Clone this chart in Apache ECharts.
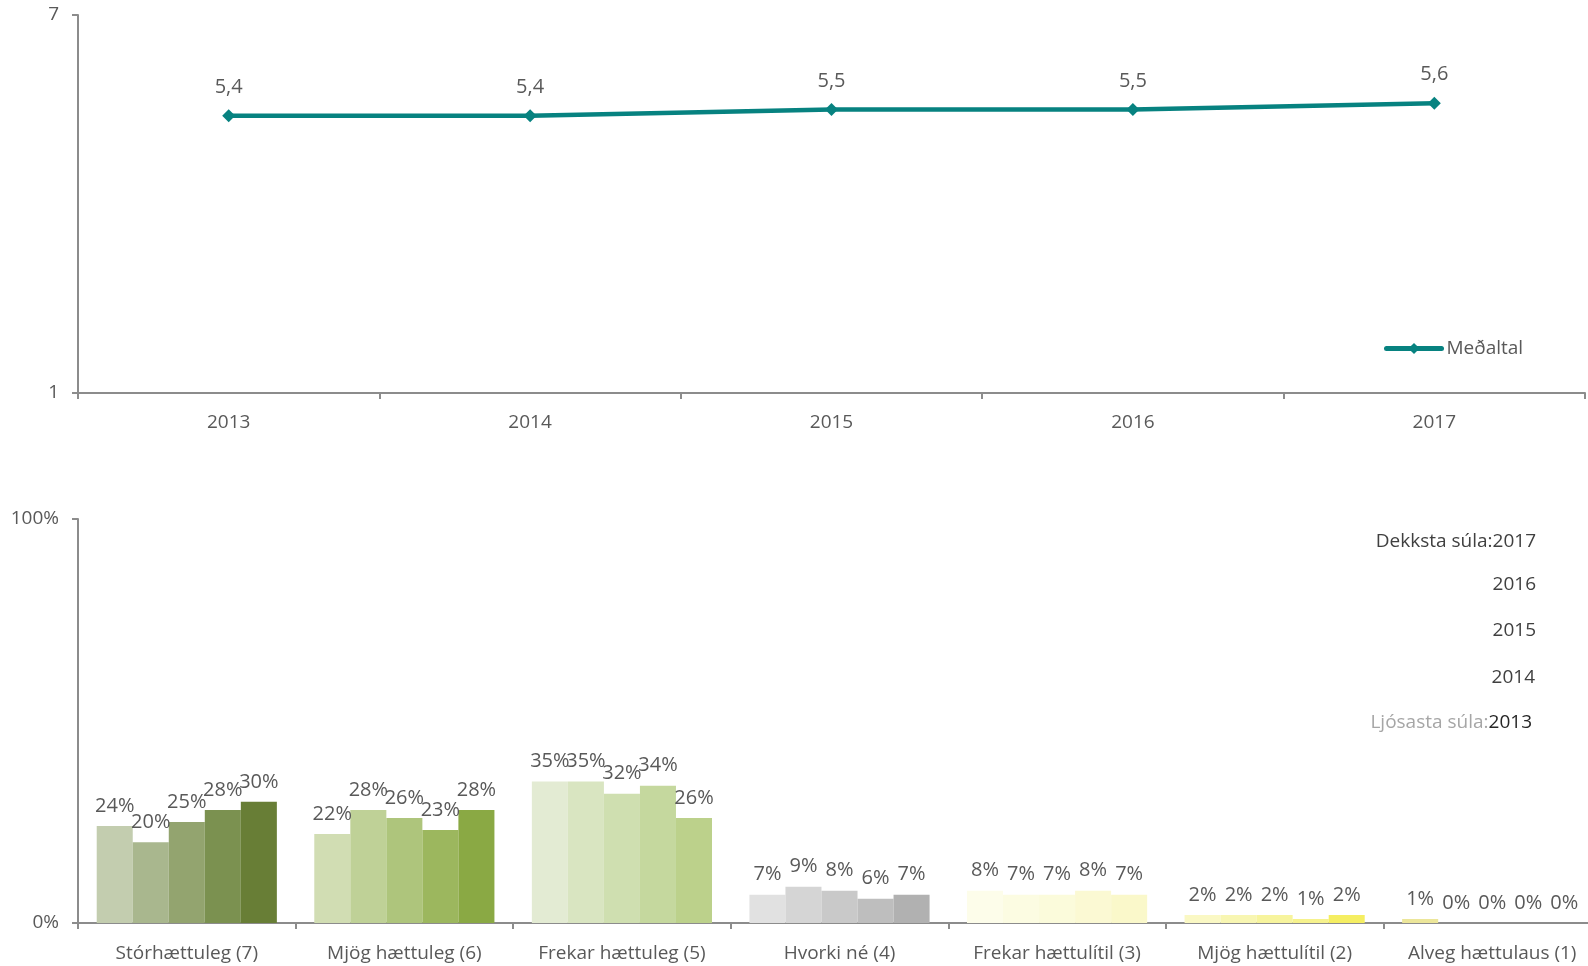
<!DOCTYPE html>
<html>
<head>
<meta charset="utf-8">
<script src="https://cdn.jsdelivr.net/npm/echarts@6/dist/echarts.min.js"></script>
<style>
  html, body { margin: 0; padding: 0; background: #ffffff; }
  #chart { width: 1588px; height: 966px; }
</style>
</head>
<body>
<div id="chart"></div>
<script>
// Mean score per year (scale 1–7)
const years = ['2013', '2014', '2015', '2016', '2017'];
const meanScore = [5.4, 5.4, 5.5, 5.5, 5.6];

// Answer distribution per category, one array per year (percent)
const categories = ['Stórhættuleg (7)', 'Mjög hættuleg (6)', 'Frekar hættuleg (5)', 'Hvorki né (4)',
  'Frekar hættulítil (3)', 'Mjög hættulítil (2)', 'Alveg hættulaus (1)'];
const share2013 = [24, 22, 35, 7, 8, 2, 1];
const share2014 = [20, 28, 35, 9, 7, 2, 0];
const share2015 = [25, 26, 32, 8, 7, 2, 0];
const share2016 = [28, 23, 34, 6, 8, 1, 0];
const share2017 = [30, 28, 26, 7, 7, 2, 0];
const shares = [share2013, share2014, share2015, share2016, share2017];

// Bar shades: one palette per category, lightest (2013) to darkest (2017)
const palettes = [
  ['#c3cdaf', '#a9b78e', '#93a46f', '#7b9150', '#687e36'],
  ['#d1ddb3', '#bfd197', '#aec57c', '#9cb75e', '#8aa944'],
  ['#e3ebd3', '#d9e5c1', '#cfdfb0', '#c5d89e', '#bcd18b'],
  ['#e1e1e1', '#d5d5d5', '#c9c9c9', '#bebebe', '#b1b1b1'],
  ['#fdfdea', '#fcfce2', '#fbfbdb', '#fbf9d3', '#faf8ca'],
  ['#faf8c4', '#f8f6b2', '#f7f49d', '#f6f28d', '#f5ee62'],
  ['#ece69a', '#e6e6e6', '#d8d8d8', '#c8c8c8', '#b8b8b8']
];

const FONT = '"Open Sans", "DejaVu Sans", sans-serif';
const TEXT = '#595959';
const AXIS = '#8c8c8c';

const chart = echarts.init(document.getElementById('chart'), null, { renderer: 'canvas' });

const barSeries = years.map((y, si) => ({
  name: y,
  type: 'bar',
  xAxisIndex: 1,
  yAxisIndex: 1,
  data: shares[si],
  barGap: '0%',
  barCategoryGap: '17.2%',
  itemStyle: {
    color: p => palettes[p.dataIndex][si]
  },
  label: {
    show: true,
    position: 'top',
    distance: 10,
    formatter: p => p.value + '%',
    color: TEXT,
    fontFamily: FONT,
    fontSize: 20
  },
  emphasis: { disabled: true }
}));

const option = {
  animation: false,
  backgroundColor: '#ffffff',
  textStyle: { fontFamily: FONT },
  grid: [
    { left: 78, width: 1507, top: 15, bottom: 573, outerBoundsMode: 'none', containLabel: false },
    { left: 78, width: 1523, top: 519, bottom: 43, outerBoundsMode: 'none', containLabel: false }
  ],
  legend: {
    data: ['Meðaltal'],
    left: 1379,
    top: 334,
    itemWidth: 55,
    itemHeight: 14,
    itemGap: 5,
    lineStyle: { width: 5, cap: 'round' },
    textStyle: { color: TEXT, fontFamily: FONT, fontSize: 19 }
  },
  xAxis: [
    {
      type: 'category',
      gridIndex: 0,
      data: years,
      axisLine: { lineStyle: { color: AXIS, width: 2 } },
      axisTick: { show: true, length: 6, lineStyle: { color: AXIS, width: 2 } },
      axisLabel: { color: TEXT, fontFamily: FONT, fontSize: 19, margin: 20 }
    },
    {
      type: 'category',
      gridIndex: 1,
      data: categories,
      axisLine: { lineStyle: { color: AXIS, width: 2 } },
      axisTick: { show: true, length: 6, lineStyle: { color: AXIS, width: 2 } },
      axisLabel: { color: TEXT, fontFamily: FONT, fontSize: 19, margin: 21, interval: 0 }
    }
  ],
  yAxis: [
    {
      type: 'value',
      gridIndex: 0,
      min: 1,
      max: 7,
      splitLine: { show: false },
      axisLine: { show: true, lineStyle: { color: AXIS, width: 2 } },
      axisTick: { show: true, length: 6, lineStyle: { color: AXIS, width: 2 }, customValues: [1, 7] },
      axisLabel: { color: TEXT, fontFamily: FONT, fontSize: 19, margin: 19, customValues: [1, 7] }
    },
    {
      type: 'value',
      gridIndex: 1,
      min: 0,
      max: 100,
      interval: 100,
      splitLine: { show: false },
      axisLine: { show: true, lineStyle: { color: AXIS, width: 2 } },
      axisTick: { show: true, length: 6, lineStyle: { color: AXIS, width: 2 } },
      axisLabel: { color: TEXT, fontFamily: FONT, fontSize: 19, margin: 19, formatter: v => v + '%' }
    }
  ],
  series: [
    {
      name: 'Meðaltal',
      type: 'line',
      xAxisIndex: 0,
      yAxisIndex: 0,
      data: meanScore,
      symbol: 'diamond',
      symbolSize: 13,
      lineStyle: { color: '#078280', width: 4.5, cap: 'round' },
      itemStyle: { color: '#078280' },
      label: {
        show: true,
        position: 'top',
        distance: 12,
        formatter: p => p.value.toFixed(1).replace('.', ','),
        color: TEXT,
        fontFamily: FONT,
        fontSize: 20
      },
      emphasis: { disabled: true }
    },
    ...barSeries
  ],
  graphic: [
    {
      type: 'text', right: 52, top: 532,
      style: {
        text: '{a|Dekksta súla:}{b|2017}',
        rich: {
          a: { fill: '#404040', fontFamily: FONT, fontSize: 19 },
          b: { fill: '#404040', fontFamily: FONT, fontSize: 19 }
        }
      }
    },
    { type: 'text', right: 52, top: 575, style: { text: '2016', fill: '#404040', font: '19px ' + FONT } },
    { type: 'text', right: 52, top: 621, style: { text: '2015', fill: '#404040', font: '19px ' + FONT } },
    { type: 'text', right: 53, top: 668, style: { text: '2014', fill: '#404040', font: '19px ' + FONT } },
    {
      type: 'text', right: 56, top: 713,
      style: {
        text: '{a|Ljósasta súla:}{b|2013}',
        rich: {
          a: { fill: '#a6a6a6', fontFamily: FONT, fontSize: 19 },
          b: { fill: '#262626', fontFamily: FONT, fontSize: 19 }
        }
      }
    }
  ]
};

chart.setOption(option);
</script>
</body>
</html>
